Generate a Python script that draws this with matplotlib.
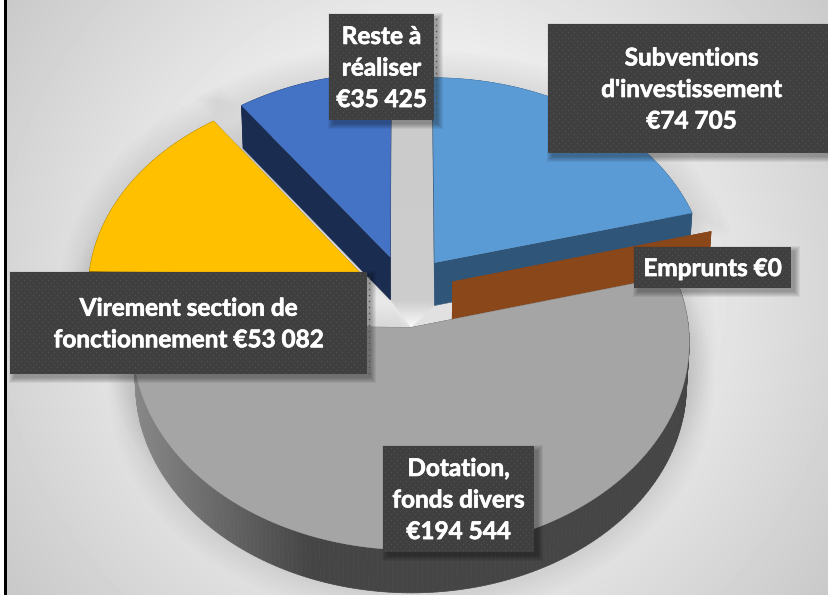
import numpy as np
import matplotlib
matplotlib.use('Agg')
import matplotlib.pyplot as plt
import matplotlib.patheffects as pe
from matplotlib.patches import Polygon, Rectangle

# clockwise from 12 o'clock
names = ["Subventions\nd'investissement\n", "Emprunts ", "Dotation,\nfonds divers\n",
         "Virement section de\nfonctionnement ", "Reste à\nréaliser\n"]
values = [74705, 0, 194544, 53082, 35425]
top_colors = ['#5B9BD5', '#8A4719', '#A5A5A5', '#FFC000', '#4472C4']
side_colors = ['#2F5579', '#8A4719', '#454545', '#7F6000', '#1A2C50']

# label boxes in pixels: x0, y0, x1, y1
boxes = [(548, 24, 835, 153), (634, 247, 791, 288), (383, 446, 534, 552),
         (10, 272, 367, 374), (329, 14, 434, 120)]

# perspective pie layout
cx, cy = 405, 291
rx, ry = 274, 201.5
k = 0.07
explode = 0.18
depth = 43
draw_order = [0, 4, 3, 1, 2]


def project(u, v):
    w = 1 + k * v
    return cx + rx * u / w, cy - ry * v / w


def lower(x, y):
    return cx + (x - cx) * 0.99, y + depth


fig = plt.figure(figsize=(8.29, 5.95), dpi=100)
ax = fig.add_axes([0, 0, 1, 1])

# background
yy, xx = np.mgrid[0:595, 0:829]
dist = np.sqrt(((xx - 420) / 420.0) ** 2 + ((yy - 290) / 420.0) ** 2)
bg = np.clip(1.0 - 0.21 * np.clip(dist - 0.25, 0, None) / 0.95, 0.75, 1)
ax.imshow(bg, cmap='gray', vmin=0, vmax=1, extent=(0, 829, 595, 0), aspect='auto', zorder=0)
ax.set_xlim(0, 829)
ax.set_ylim(595, 0)
ax.axis('off')

# slices from the values
total = sum(values)
angles = np.cumsum([0] + values) / total * 2 * np.pi
slices = []
for i in range(len(values)):
    a0, a1 = angles[i], angles[i + 1]
    mid = (a0 + a1) / 2
    ou, ov = explode * np.sin(mid), explode * np.cos(mid)
    t = np.linspace(a0, a1, max(2, int((a1 - a0) * 60)))
    rim = np.array([project(ou + np.sin(a), ov + np.cos(a)) for a in t])
    apex = np.array(project(ou, ov))
    slices.append((apex, rim))

# soft shadow round the pie
for apex, rim in slices:
    if len(rim) < 3:
        continue
    pts = np.vstack([apex, rim])
    low = np.array([lower(x, y) for x, y in pts])
    for lw in range(4, 44, 4):
        ax.add_patch(Polygon(pts, closed=True, fc='none', ec='black', lw=lw, alpha=0.006, zorder=1))
        ax.add_patch(Polygon(low, closed=True, fc='none', ec='black', lw=lw, alpha=0.006, zorder=1))

# gap between the two upper slices, lit from below
reste_apex, reste_rim = slices[4]
subv_apex, subv_rim = slices[0]
dot_apex = slices[2][0]
gap_pts = [reste_apex, reste_rim[-1], subv_rim[0], subv_apex, lower(*subv_apex), dot_apex, lower(*reste_apex)]
gap = np.interp(np.arange(0, 595), [0, 300, 325], [0.79, 0.80, 0.97]).reshape(-1, 1)
im = ax.imshow(gap, cmap='gray', vmin=0, vmax=1, extent=(0, 829, 595, 0), aspect='auto', zorder=2)
im.set_clip_path(Polygon(gap_pts, transform=ax.transData))

z = 3
for i in draw_order:
    apex, rim = slices[i]
    # rim wall
    for j in range(len(rim) - 1):
        a, b = rim[j], rim[j + 1]
        col = side_colors[i]
        if i == 2:
            g = np.interp((a[0] + b[0]) / 2, [135, 310], [0.53, 0.27])
            col = (g, g, g)
        ax.add_patch(Polygon([a, b, lower(*b), lower(*a)], closed=True, fc=col, ec=col, lw=0.5, zorder=z))
    # cut walls
    for e in (rim[0], rim[-1]):
        ax.add_patch(Polygon([apex, e, lower(*e), lower(*apex)], closed=True,
                             fc=side_colors[i], ec=side_colors[i], lw=0.3, zorder=z))
    if values[i] > 0:
        ax.add_patch(Polygon(np.vstack([apex, rim]), closed=True, fc=top_colors[i], ec=top_colors[i], lw=0.3, zorder=z + 1))
    z += 2

# labels
for i in range(len(values)):
    x0, y0, x1, y1 = boxes[i]
    for s in range(1, 7):
        ax.add_patch(Rectangle((x0 + 5 - s, y0 + 5 - s), x1 - x0 + 2 * s - 2, y1 - y0 + 2 * s - 2,
                               fc='black', ec='none', alpha=0.06, zorder=20))
    ax.add_patch(Rectangle((x0, y0), x1 - x0, y1 - y0, fc='#3F3F3F', ec='none', zorder=21))
    dx = np.arange(x0 + 2, x1, 6)
    dy = np.arange(y0 + 2, y1, 3)
    px = [x + (3 if n % 2 else 0) for n, y in enumerate(dy) for x in dx]
    py = [y for y in dy for x in dx]
    ax.scatter(px, py, s=1.2, c='#4E4E4E', linewidths=0, zorder=22,
               clip_path=Rectangle((x0, y0), x1 - x0, y1 - y0, transform=ax.transData))
    txt = names[i] + '€' + f'{values[i]:,}'.replace(',', ' ')
    ax.text((x0 + x1) / 2, (y0 + y1) / 2 + 1, txt, color='white', ha='center', va='center',
            fontsize=17.5, fontweight='bold', family='Lato', linespacing=1.45, zorder=23,
            path_effects=[pe.withStroke(linewidth=0.5, foreground='white')])

# frame on the left edge
ax.add_patch(Rectangle((0, 0), 4, 595, fc='white', ec='none', zorder=30))
ax.add_patch(Rectangle((4, 0), 2.7, 595, fc='black', ec='none', zorder=30))

fig.savefig('out.png', dpi=100)
